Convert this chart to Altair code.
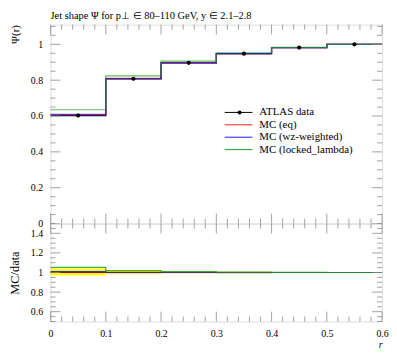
import altair as alt
import pandas as pd

# ---------------- data ----------------
edges = [0.0, 0.1, 0.2, 0.3, 0.4, 0.5, 0.6]
centers = [0.05, 0.15, 0.25, 0.35, 0.45, 0.55]
data_vals = [0.603, 0.808, 0.897, 0.948, 0.982, 1.0]
data_err = [0.010, 0.008, 0.006, 0.005, 0.004, 0.002]
eq_vals = [0.606, 0.810, 0.897, 0.946, 0.982, 1.0]
wz_vals = [0.609, 0.808, 0.897, 0.948, 0.982, 1.0]
locked_vals = [0.635, 0.824, 0.906, 0.953, 0.983, 1.0]

ratio_eq = [1.005, 1.003, 1.0, 0.998, 1.0, 1.0]
ratio_wz = [1.010, 1.000, 1.0, 1.000, 1.0, 1.0]
ratio_locked = [1.053, 1.020, 1.010, 1.005, 1.001, 1.0]
band_lo = [0.970, 0.982, 0.990, 0.993, 0.996, 0.998]
band_hi = [1.040, 1.017, 1.010, 1.007, 1.004, 1.002]

series_names = ["ATLAS data", "MC (eq)", "MC (wz-weighted)", "MC (locked_lambda)"]
series_colors = ["black", "#ff1a1a", "#1a1aff", "#1f9a1f"]

main_y_ticks = [0, 0.2, 0.4, 0.6, 0.8, 1.0]
ratio_y_ticks = [0.6, 0.8, 1.0, 1.2, 1.4]
x_ticks = [0, 0.1, 0.2, 0.3, 0.4, 0.5, 0.6]

# ---------------- layout ----------------
W, H1, H2 = 335, 201, 99
FONT = "Liberation Serif"
TICK_C = "#8a8a8a"
MAJ, MIN = 10, 5

xdom = [0, 0.6]
main_dom = [0, 1.11]
ratio_dom = [0.5, 1.5]

x_minor = [round(i * 0.02, 2) for i in range(31) if i % 5]
main_y_minor = [round(i * 0.05, 2) for i in range(23) if i % 4]
ratio_y_minor = [round(0.5 + i * 0.05, 2) for i in range(21) if (i % 4) != 2]

xsc = alt.Scale(domain=xdom, nice=False, zero=False)
main_y_scale = alt.Scale(domain=main_dom, nice=False, zero=False)
ratio_y_scale = alt.Scale(domain=ratio_dom, nice=False, zero=False)

main_y_axis = alt.Axis(values=main_y_ticks, format="~g", ticks=False, domain=False,
                       grid=False, labelFont=FONT, labelFontSize=10, labelPadding=8,
                       labelColor="black",
                       title="Ψ(r)", titleAnchor="end", titleFont=FONT, titleColor="black",
                       titleFontSize=11, titleFontWeight="normal", titlePadding=10)
ratio_y_axis = alt.Axis(values=ratio_y_ticks, format="~g", ticks=False, domain=False,
                        grid=False, labelFont=FONT, labelFontSize=10, labelPadding=8,
                        labelColor="black",
                        title="MC/data", titleFont=FONT, titleFontSize=12.5, titleColor="black",
                        titleFontWeight="normal", titlePadding=9)
ratio_x_axis = alt.Axis(values=x_ticks, format="~g", ticks=False, domain=False, grid=False,
                        labelFont=FONT, labelFontSize=10, labelPadding=7, labelFlush=False,
                        labelColor="black",
                        title="r", titleAnchor="end", titleFont=FONT, titleFontSize=10,
                        titleColor="black",
                        titleFontStyle="italic", titleFontWeight="normal", titlePadding=1)


def step_df(vals):
    return pd.DataFrame({"x": edges, "y": list(vals) + [vals[-1]]})


def tick_layers(ysc, yaxis, xaxis, ymaj, ymin, H):
    layers = []
    for vals, ln in ((x_ticks, MAJ), (x_minor, MIN)):
        df = pd.DataFrame({"v": vals})
        base = alt.Chart(df).mark_rule(color=TICK_C, strokeWidth=0.8)
        layers.append(base.encode(x=alt.X("v:Q", scale=xsc, axis=xaxis),
                                  y=alt.value(H), y2=alt.value(H - ln)))
        layers.append(base.encode(x=alt.X("v:Q", scale=xsc, axis=xaxis),
                                  y=alt.value(0), y2=alt.value(ln)))
    for vals, ln in ((ymaj, MAJ), (ymin, MIN)):
        df = pd.DataFrame({"v": vals})
        base = alt.Chart(df).mark_rule(color=TICK_C, strokeWidth=0.8)
        layers.append(base.encode(y=alt.Y("v:Q", scale=ysc, axis=yaxis),
                                  x=alt.value(0), x2=alt.value(ln)))
        layers.append(base.encode(y=alt.Y("v:Q", scale=ysc, axis=yaxis),
                                  x=alt.value(W), x2=alt.value(W - ln)))
    return layers


# ---------------- main panel ----------------
def main_line(vals, color, width, op=0.85):
    return alt.Chart(step_df(vals)).mark_line(
        interpolate="step-after", color=color, strokeWidth=width, opacity=op
    ).encode(x=alt.X("x:Q", scale=xsc, axis=None),
             y=alt.Y("y:Q", scale=main_y_scale, axis=main_y_axis))


pts_df = pd.DataFrame({"x": centers, "y": data_vals,
                       "lo": [v - e for v, e in zip(data_vals, data_err)],
                       "hi": [v + e for v, e in zip(data_vals, data_err)]})

main_layers = [
    main_line(data_vals, "black", 1.3, 1),
    main_line(eq_vals, series_colors[1], 1.2, 0.7),
    main_line(wz_vals, series_colors[2], 1.2, 0.7),
    main_line(locked_vals, series_colors[3], 1.2, 0.7),
    alt.Chart(pts_df).mark_rule(color="black", strokeWidth=1).encode(
        x=alt.X("x:Q", scale=xsc, axis=None),
        y=alt.Y("lo:Q", scale=main_y_scale, axis=main_y_axis), y2="hi:Q"),
    alt.Chart(pts_df).mark_point(filled=True, color="black", size=18, opacity=1).encode(
        x=alt.X("x:Q", scale=xsc, axis=None),
        y=alt.Y("y:Q", scale=main_y_scale, axis=main_y_axis)),
] + tick_layers(main_y_scale, main_y_axis, None, main_y_ticks, main_y_minor, H1)

# legend
leg_df = pd.DataFrame({"name": series_names, "color": series_colors})
leg_y = alt.Y("name:N", scale=alt.Scale(type="point", domain=series_names,
                                        range=[88.7, 126.3], padding=0), axis=None)
leg_color = alt.Color("name:N", scale=alt.Scale(domain=series_names, range=series_colors),
                      legend=None)
legend_layers = alt.layer(
    alt.Chart(leg_df).mark_rule(strokeWidth=1).encode(
        y=leg_y, x=alt.value(176), x2=alt.value(204), color=leg_color),
    alt.Chart(leg_df[leg_df["name"] == "ATLAS data"]).mark_point(
        filled=True, size=16, color="black", opacity=1).encode(
        y=leg_y, x=alt.value(191)),
    alt.Chart(leg_df).mark_text(align="left", baseline="middle", font=FONT,
                                fontSize=11, color="black").encode(
        y=leg_y, x=alt.value(211), text="name:N"),
)

main = alt.layer(alt.layer(*main_layers), legend_layers).resolve_scale(
    y="independent", color="independent"
).properties(
    width=W, height=H1,
    title=alt.TitleParams("Jet shape Ψ for p⊥ ∈ 80–110 GeV, y ∈ 2.1–2.8",
                          anchor="start", frame="group", font=FONT, fontSize=10.5,
                          fontWeight="normal", offset=3, color="black"),
)

# ---------------- ratio panel ----------------
band_df = pd.DataFrame({"x": edges[:-1], "x2": edges[1:], "lo": band_lo, "hi": band_hi})


def ratio_line(vals, color, width, op=0.85):
    return alt.Chart(step_df(vals)).mark_line(
        interpolate="step-after", color=color, strokeWidth=width, opacity=op
    ).encode(x=alt.X("x:Q", scale=xsc, axis=ratio_x_axis),
             y=alt.Y("y:Q", scale=ratio_y_scale, axis=ratio_y_axis))


ratio_layers = [
    alt.Chart(band_df).mark_rect(color="#ffff00", opacity=1).encode(
        x=alt.X("x:Q", scale=xsc, axis=ratio_x_axis), x2="x2:Q",
        y=alt.Y("lo:Q", scale=ratio_y_scale, axis=ratio_y_axis), y2="hi:Q"),
    ratio_line([1.0] * 6, "black", 1.2, 1),
    ratio_line(ratio_eq, series_colors[1], 1.2),
    ratio_line(ratio_wz, series_colors[2], 1.2),
    ratio_line(ratio_locked, series_colors[3], 1.2),
] + tick_layers(ratio_y_scale, ratio_y_axis, ratio_x_axis, ratio_y_ticks, ratio_y_minor, H2)

ratio = alt.layer(*ratio_layers).properties(width=W, height=H2)

chart = alt.vconcat(main, ratio, spacing=0, bounds="flush").configure_view(
    stroke="#999999", strokeWidth=1
).configure(padding={"left": 0, "top": 0, "right": 0, "bottom": 0}, background="white")

chart.save("out.html", embed_options={"renderer": "svg", "actions": False})
